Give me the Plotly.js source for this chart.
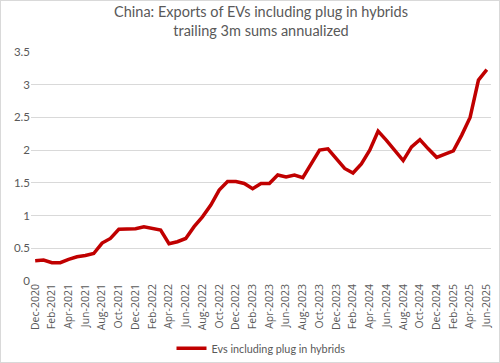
<!DOCTYPE html>
<html>
<head>
<meta charset="utf-8">
<script src="https://cdn.plot.ly/plotly-3.0.1.min.js"></script>
<style>
html,body{margin:0;padding:0;background:#fff;}
#chart{width:500px;height:363px;box-sizing:border-box;border:1px solid #d9d9d9;}
</style>
</head>
<body>
<div id="chart"></div>
<script>
const months = [
"Dec-2020","Jan-2021","Feb-2021","Mar-2021","Apr-2021","May-2021","Jun-2021","Jul-2021","Aug-2021","Sep-2021","Oct-2021","Nov-2021",
"Dec-2021","Jan-2022","Feb-2022","Mar-2022","Apr-2022","May-2022","Jun-2022","Jul-2022","Aug-2022","Sep-2022","Oct-2022","Nov-2022",
"Dec-2022","Jan-2023","Feb-2023","Mar-2023","Apr-2023","May-2023","Jun-2023","Jul-2023","Aug-2023","Sep-2023","Oct-2023","Nov-2023",
"Dec-2023","Jan-2024","Feb-2024","Mar-2024","Apr-2024","May-2024","Jun-2024","Jul-2024","Aug-2024","Sep-2024","Oct-2024","Nov-2024",
"Dec-2024","Jan-2025","Feb-2025","Mar-2025","Apr-2025","May-2025","Jun-2025"
];
const evExports = [
0.31,0.32,0.28,0.28,0.33,0.37,0.39,0.42,0.58,0.65,0.79,0.80,
0.80,0.83,0.80,0.78,0.57,0.60,0.65,0.83,0.98,1.16,1.39,1.52,
1.52,1.49,1.41,1.49,1.49,1.62,1.59,1.62,1.58,1.78,2.00,2.02,
1.87,1.72,1.65,1.79,2.00,2.29,2.15,2.00,1.84,2.05,2.16,2.02,
1.89,1.94,1.99,2.23,2.50,3.07,3.23
];
const tickLabels = months.filter((m, i) => i % 2 === 0);
const seriesName = "Evs including plug in hybrids";
const chartTitle = "China: Exports of EVs including plug in hybrids<br>trailing 3m sums annualized";

const fontFam = "Lato, Open Sans, sans-serif";
const tickFam = "Open Sans, Lato, sans-serif";
Plotly.newPlot("chart", [{
  x: months,
  y: evExports,
  type: "scatter",
  mode: "lines",
  name: seriesName,
  line: {color: "#c00000", width: 3.5}
}], {
  width: 498, height: 361,
  margin: {l: 30, r: 8, t: 51, b: 81, autoexpand: false},
  paper_bgcolor: "#fff",
  plot_bgcolor: "#fff",
  font: {family: fontFam, color: "#595959", size: 11},
  title: {text: chartTitle, font: {size: 14.5, color: "#595959", family: fontFam}, x: 0.5, xanchor: "center", xref: "paper", yref: "container", y: 0.956, yanchor: "top"},
  xaxis: {
    type: "category",
    automargin: false,
    tickmode: "array",
    tickvals: tickLabels,
    ticktext: tickLabels,
    tickangle: -90,
    tickfont: {size: 10.5, color: "#595959", family: tickFam},
    showgrid: false,
    showline: false,
    zeroline: false,
    ticks: "",
    range: [-0.5, months.length - 0.5]
  },
  yaxis: {
    automargin: false,
    range: [0, 3.5],
    dtick: 0.5,
    tickfont: {size: 11.5, color: "#595959"},
    gridcolor: "#d9d9d9",
    gridwidth: 1,
    zeroline: false,
    showline: false,
    ticks: "",
    tickformat: "~g"
  },
  showlegend: true,
  legend: {orientation: "h", x: 0.5, xanchor: "center", yref: "container", y: 0.038, yanchor: "middle", font: {size: 10.8, color: "#595959"}}
}, {displayModeBar: false, staticPlot: true});
</script>
</body>
</html>
